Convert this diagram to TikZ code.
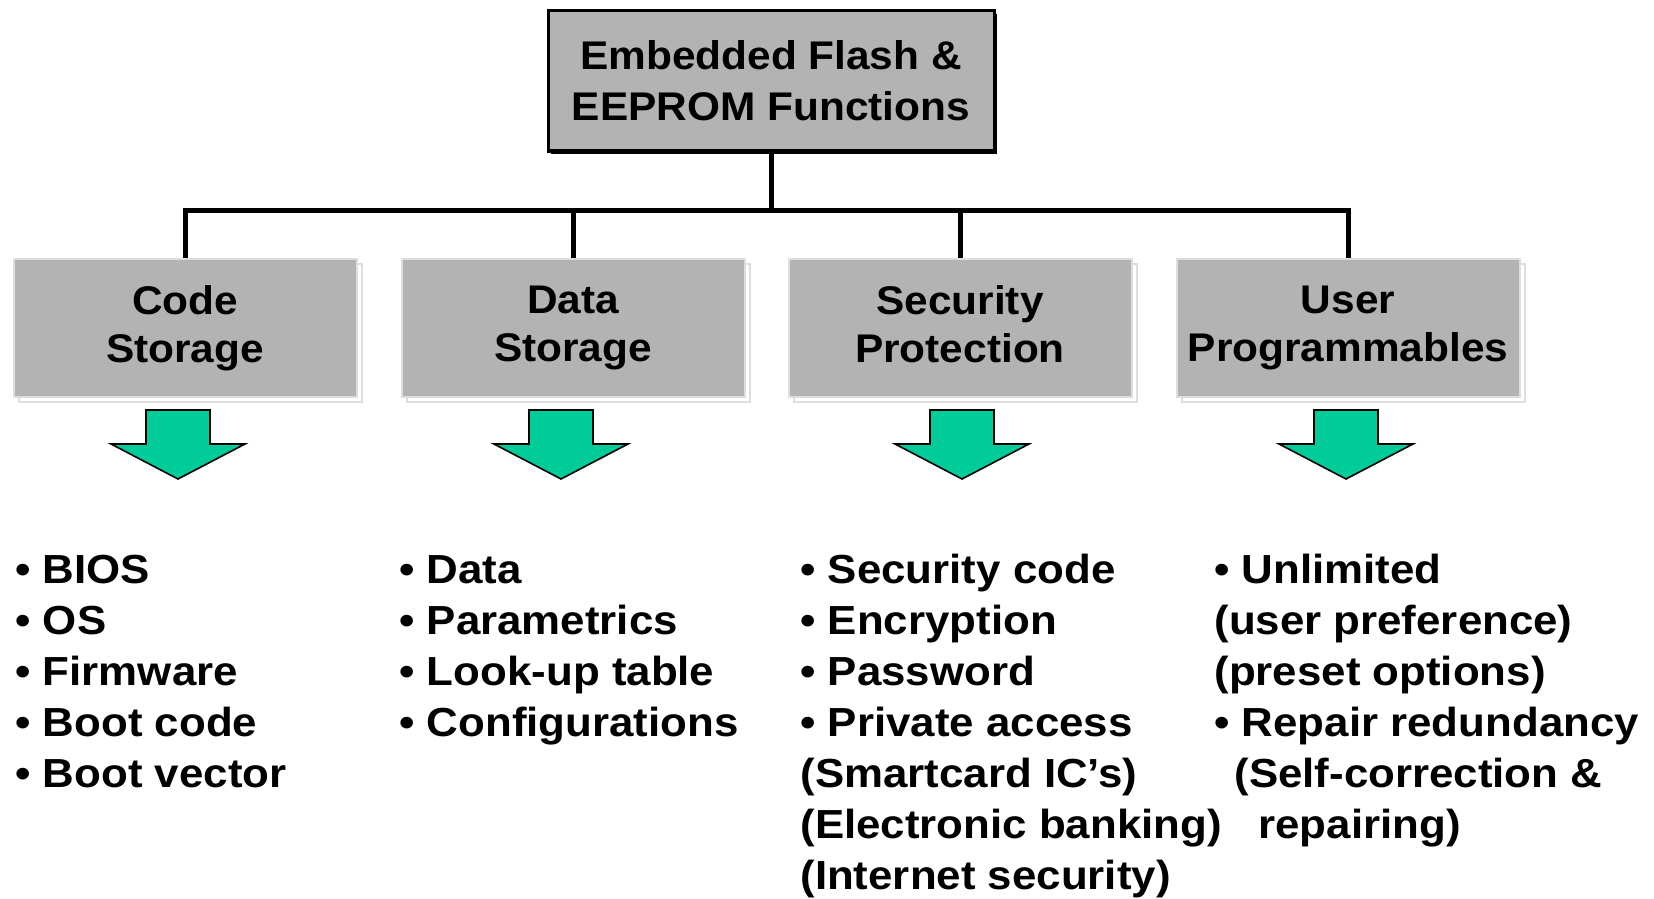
\documentclass[tikz,border=0pt]{standalone}
\usepackage{fontspec}
\newfontfamily\arialbold{Liberation Sans}[FakeStretch=1.06]
\newfontfamily\listfont{Liberation Sans}[FakeStretch=1.08]
\usetikzlibrary{shadows}
\definecolor{boxgray}{RGB}{179,179,179}
\definecolor{edgegray}{RGB}{222,222,222}
\definecolor{arrgreen}{RGB}{0,204,153}

\begin{document}
\begin{tikzpicture}[
    x=0.5pt, y=-0.5pt,
    root/.style={rectangle, draw=black, line width=1.5pt, fill=boxgray,
      minimum width=223pt, minimum height=70pt, align=center,
      font=\arialbold\bfseries\fontsize{20}{25.5}\selectfont,
      drop shadow={shadow xshift=1.5pt, shadow yshift=-1.5pt, fill=black, opacity=1}},
    cat/.style={rectangle, draw=edgegray, line width=1pt, fill=boxgray,
      minimum width=171.5pt, minimum height=69pt, align=center,
      font=\arialbold\bfseries\fontsize{20}{24}\selectfont,
      execute at end node={\vphantom{g}},
      drop shadow={shadow xshift=2.5pt, shadow yshift=-2.5pt, fill=white,
        draw=edgegray, line width=1pt, opacity=1}},
    lst/.style={anchor=base west, align=left, inner sep=0pt,
      font=\listfont\bfseries\fontsize{20.3}{25.5}\selectfont},
    conn/.style={line width=2.5pt, black},
    downarrow/.pic={\draw[fill=arrgreen, line width=0.8pt]
      (-32,0) -- (32,0) -- (32,34) -- (67,34) -- (0,69) -- (-67,34) -- (-32,34) -- cycle;}
  ]
  \useasboundingbox (0,0) rectangle (1654,899);

  \node[root] (root) at (771,81) {Embedded Flash \&\\EEPROM Functions};

  \node[cat] (code) at (185,328) {Code\\Storage};
  \node[cat] (data) at (573,328) {Data\\Storage};
  \node[cat] (secu) at (960,328) {Security\\Protection};
  \node[cat] (user) at (1348,328) {User\\Programmables};

  % tree from the root to the four groups
  \foreach \b in {code,data,secu,user}
    \draw[conn] (root.south) -- ++(0,58) -| (\b.north);

  \pic at ([xshift=-3.5pt,yshift=-6pt]code.south) {downarrow};
  \pic at ([xshift=-6pt,yshift=-6pt]data.south) {downarrow};
  \pic at ([xshift=1pt,yshift=-6pt]secu.south) {downarrow};
  \pic at ([xshift=-1pt,yshift=-6pt]user.south) {downarrow};

  % lists sit on the baseline of their last line (first lines at y=583)
  \node[lst] (codelist) at (15,787)
    {\textbullet\ BIOS\\\textbullet\ OS\\\textbullet\ Firmware\\
     \textbullet\ Boot code\\\textbullet\ Boot vector};
  \node[lst] (datalist) at (399,736)
    {\textbullet\ Data\\\textbullet\ Parametrics\\\textbullet\ Look-up table\\
     \textbullet\ Configurations};
  \node[lst] (seculist) at (800,889)
    {\textbullet\ Security code\\\textbullet\ Encryption\\\textbullet\ Password\\
     \textbullet\ Private access\\(Smartcard IC’s)\\(Electronic banking)\\
     (Internet security)};
  \node[lst] (userlist) at (1214,838)
    {\textbullet\ Unlimited\\(user preference)\\(preset options)\\
     \textbullet\ Repair redundancy\\\hspace*{10pt}(Self-correction \&\\
     \hspace*{22pt}repairing)};
\end{tikzpicture}
\end{document}
